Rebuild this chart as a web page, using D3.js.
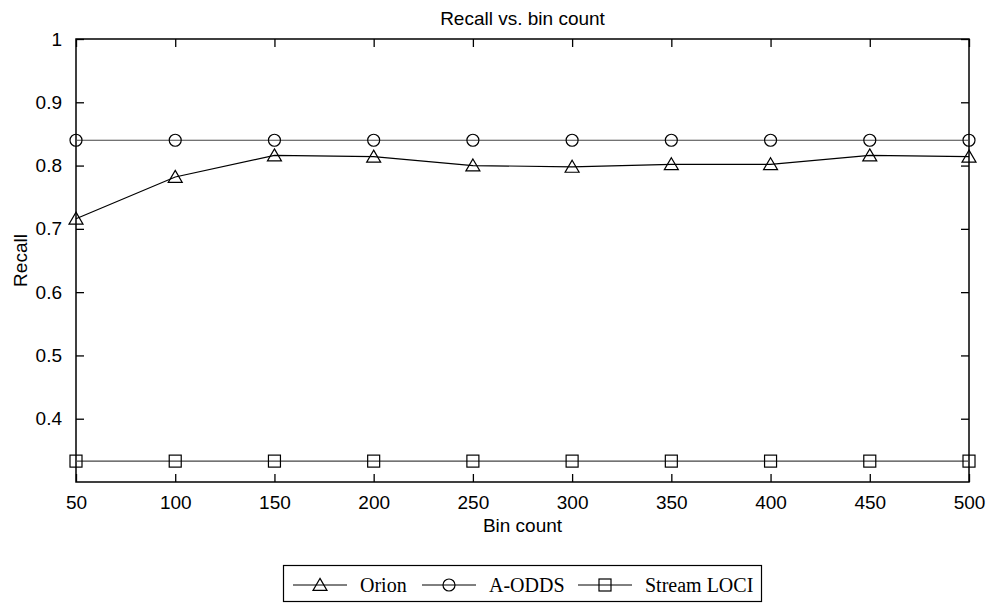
<!DOCTYPE html>
<html>
<head>
<meta charset="utf-8">
<script src="https://cdn.jsdelivr.net/npm/d3@7"></script>
<style>
  html, body { margin: 0; padding: 0; background: #fff; }
  svg { display: block; }
</style>
</head>
<body>
<svg id="chart" width="991" height="603"></svg>
<script>
const binCounts = [50, 100, 150, 200, 250, 300, 350, 400, 450, 500];
const orion = [0.716, 0.782, 0.816, 0.814, 0.800, 0.798, 0.802, 0.802, 0.816, 0.814];
const aodds = [0.840, 0.840, 0.840, 0.840, 0.840, 0.840, 0.840, 0.840, 0.840, 0.840];
const streamLoci = [0.333, 0.333, 0.333, 0.333, 0.333, 0.333, 0.333, 0.333, 0.333, 0.333];
const yTicks = [0.4, 0.5, 0.6, 0.7, 0.8, 0.9, 1];
const xTicks = [50, 100, 150, 200, 250, 300, 350, 400, 450, 500];
const seriesNames = ["Orion", "A-ODDS", "Stream LOCI"];

const svg = d3.select("#chart");
const L = 76, R = 969, T = 39, B = 482;
const x = d3.scaleLinear().domain([50, 500]).range([L, R]);
const y = d3.scaleLinear().domain([0.3, 1]).range([B, T]);
const sans = "Liberation Sans, Arial, sans-serif";
const serif = "Liberation Serif, Times New Roman, serif";
const tickLen = 8;

// Frame
svg.append("rect").attr("x", L).attr("y", T).attr("width", R - L).attr("height", B - T)
  .attr("fill", "none").attr("stroke", "#000").attr("stroke-width", 1.5);

// Axes (inward ticks)
const xAxisB = d3.axisBottom(x).tickValues(xTicks).tickSizeInner(-tickLen).tickSizeOuter(0).tickPadding(14).tickFormat(d3.format("d"));
const gx = svg.append("g").attr("transform", `translate(0,${B})`).call(xAxisB);
const xAxisT = d3.axisTop(x).tickValues(xTicks).tickSizeInner(-tickLen).tickSizeOuter(0).tickFormat("");
const gxt = svg.append("g").attr("transform", `translate(0,${T})`).call(xAxisT);
const yAxisL = d3.axisLeft(y).tickValues(yTicks).tickSizeInner(-tickLen).tickSizeOuter(0).tickPadding(14).tickFormat(d => d === 1 ? "1" : d3.format(".1f")(d));
const gy = svg.append("g").attr("transform", `translate(${L},0)`).call(yAxisL);
const yAxisR = d3.axisRight(y).tickValues(yTicks).tickSizeInner(-tickLen).tickSizeOuter(0).tickFormat("");
const gyr = svg.append("g").attr("transform", `translate(${R},0)`).call(yAxisR);
[gx, gxt, gy, gyr].forEach(g => {
  g.select(".domain").remove();
  g.selectAll(".tick line").attr("stroke", "#000").attr("stroke-width", 1.3);
  g.selectAll("text").attr("fill", "#000").style("font-family", sans).style("font-size", "19px");
});

// Titles
svg.append("text").attr("x", (L + R) / 2).attr("y", 25).attr("text-anchor", "middle")
  .style("font-family", sans).style("font-size", "19px").text("Recall vs. bin count");
svg.append("text").attr("x", (L + R) / 2).attr("y", 532).attr("text-anchor", "middle")
  .style("font-family", sans).style("font-size", "19px").text("Bin count");
svg.append("text").attr("transform", `translate(27,${(T + B) / 2}) rotate(-90)`).attr("text-anchor", "middle")
  .style("font-family", sans).style("font-size", "19px").text("Recall");

// Markers
function drawMarker(g, type, cx, cy) {
  if (type === "triangle") {
    const w = 14, h = 12;
    g.append("path").attr("d", `M${cx},${cy - h * 0.55} L${cx + w / 2},${cy + h * 0.45} L${cx - w / 2},${cy + h * 0.45} Z`)
      .attr("fill", "none").attr("stroke", "#000").attr("stroke-width", 1.2);
  } else if (type === "circle") {
    g.append("circle").attr("cx", cx).attr("cy", cy).attr("r", 6)
      .attr("fill", "none").attr("stroke", "#000").attr("stroke-width", 1.2);
  } else {
    g.append("rect").attr("x", cx - 6).attr("y", cy - 6).attr("width", 12).attr("height", 12)
      .attr("fill", "none").attr("stroke", "#000").attr("stroke-width", 1.2);
  }
}

const series = [
  { name: seriesNames[0], values: orion, marker: "triangle", color: "#000" },
  { name: seriesNames[1], values: aodds, marker: "circle", color: "#444" },
  { name: seriesNames[2], values: streamLoci, marker: "square", color: "#444" }
];
const line = d3.line().x((d, i) => x(binCounts[i])).y(d => y(d));
series.forEach(s => {
  const g = svg.append("g");
  g.append("path").datum(s.values).attr("d", line).attr("fill", "none")
    .attr("stroke", s.color).attr("stroke-width", 1.2);
  s.values.forEach((v, i) => drawMarker(g, s.marker, x(binCounts[i]), y(v)));
});

// Legend
const lg = svg.append("g");
lg.append("rect").attr("x", 283.5).attr("y", 565.5).attr("width", 478).attr("height", 36)
  .attr("fill", "#fff").attr("stroke", "#000").attr("stroke-width", 1.2);
const ly = 585;
const legendItems = [
  { x0: 293, text: seriesNames[0], marker: "triangle" },
  { x0: 422, text: seriesNames[1], marker: "circle" },
  { x0: 578, text: seriesNames[2], marker: "square" }
];
legendItems.forEach(it => {
  lg.append("line").attr("x1", it.x0).attr("x2", it.x0 + 54).attr("y1", ly).attr("y2", ly)
    .attr("stroke", "#000").attr("stroke-width", 1);
  drawMarker(lg, it.marker, it.x0 + 27, ly);
  lg.append("text").attr("x", it.x0 + 67).attr("y", ly + 7)
    .style("font-family", serif).style("font-size", "20px").text(it.text);
});
</script>
</body>
</html>
